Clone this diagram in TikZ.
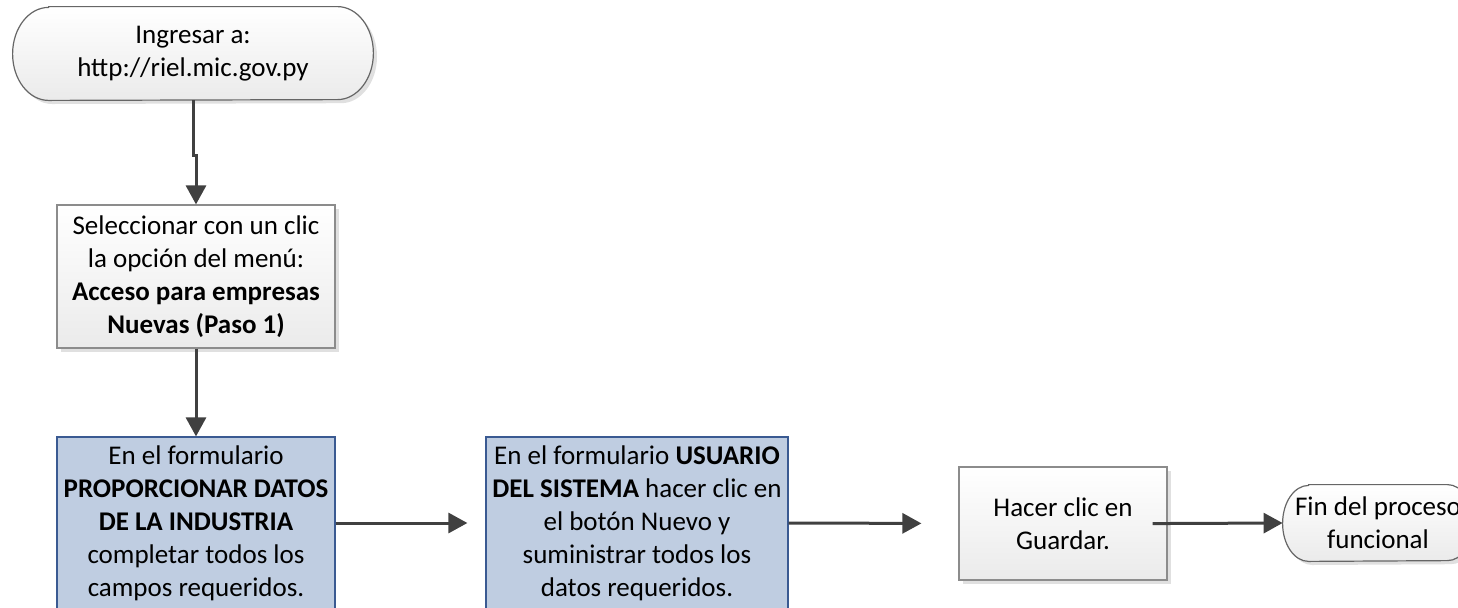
\documentclass[tikz,border=0pt]{standalone}
\usepackage{fontspec}
\setmainfont{Carlito}
\usepackage{tikz}
\usetikzlibrary{arrows.meta,shadows}
\pgfdeclarelayer{background}
\pgfsetlayers{background,main}
\definecolor{myblue}{HTML}{BFCDE1}
\definecolor{myblueline}{HTML}{3A5A92}
\definecolor{mygrayline}{HTML}{8C8C8C}
\definecolor{myarrowgray}{HTML}{404040}
\tikzstyle{myshade} = [top color=white, bottom color=black!8,
drop shadow={shadow xshift=1.8pt, shadow yshift=-1.8pt, opacity=1, fill=black!12}]
\tikzstyle{mybox} = [myshade, draw=mygrayline, line width=0.6pt,
rectangle, align=center, inner sep=0pt, font=\fontsize{13.5}{16.5}\selectfont]
\tikzstyle{myterm} = [rectangle, align=center, inner sep=0pt, font=\fontsize{13.5}{16.5}\selectfont]
\tikzstyle{mytermline} = [myshade, draw=black!60, line width=0.6pt]
\tikzstyle{mybluebox} = [draw=myblueline, line width=0.6pt, fill=myblue,
rectangle, align=center, inner sep=0pt, font=\fontsize{13.5}{16.5}\selectfont]
\tikzstyle{myarrow} = [draw=myarrowgray, line width=1.5pt, -{Triangle[length=9.5pt,width=10pt]}]

\begin{document}
\begin{tikzpicture}[x=0.5pt,y=-0.5pt]
		\clip (0,0) rectangle (1458,607);
		\node [myterm, minimum width=180pt, minimum height=46.5pt] (start) at (193,53.5)
			{Ingresar a:\\http://riel.mic.gov.py};
		\node [mybox, minimum width=139pt, minimum height=71.5pt] (sel) at (196,276.5)
			{Seleccionar con un clic\\la opción del menú:\\{\bf Acceso para empresas}\\{\bf Nuevas (Paso 1)}};
		\node [mybluebox, minimum width=139pt, minimum height=86pt] (prop) at (196,523)
			{En el formulario\\{\bf PROPORCIONAR DATOS}\\{\bf DE LA INDUSTRIA}\\completar todos los\\campos requeridos.};
		\node [mybluebox, minimum width=151pt, minimum height=86pt] (usr) at (637,523)
			{En el formulario {\bf USUARIO}\\{\bf DEL SISTEMA} hacer clic en\\el botón Nuevo y\\suministrar todos los\\datos requeridos.};
		\node [mybox, minimum width=104pt, minimum height=56.5pt] (guard) at (1063,523.5)
			{Hacer clic en\\Guardar.};
		\node [myterm, minimum width=95pt, minimum height=38pt] (fin) at (1378,523)
			{Fin del proceso\\funcional};
		%terminator outlines
		\begin{pgfonlayer}{background}
		\path [mytermline] ([xshift=18pt]start.north west) -- ([xshift=-18pt]start.north east)
			arc [start angle=90, end angle=-90, x radius=18pt, y radius=23.25pt]
			-- ([xshift=18pt]start.south west)
			arc [start angle=270, end angle=90, x radius=18pt, y radius=23.25pt] -- cycle;
		\path [mytermline] ([xshift=13pt]fin.north west) -- ([xshift=-13pt]fin.north east)
			arc [start angle=90, end angle=-90, x radius=13pt, y radius=19pt]
			-- ([xshift=13pt]fin.south west)
			arc [start angle=270, end angle=90, x radius=13pt, y radius=19pt] -- cycle;
		\end{pgfonlayer}
		%arrows
		\coordinate (jog) at (195,155);
		\draw [myarrow] (start.south) |- (jog) -| (sel.north);
		\draw [myarrow] (sel.south) -- (prop.north);
		\draw [myarrow, shorten >=9pt] (prop.east) -- (usr.west);
		\draw [myarrow, shorten >=18.5pt] (usr.east) -- (guard.west);
		\draw [myarrow, shorten <=-7.5pt] (guard.east) -- (fin.west);
\end{tikzpicture}
\end{document}
